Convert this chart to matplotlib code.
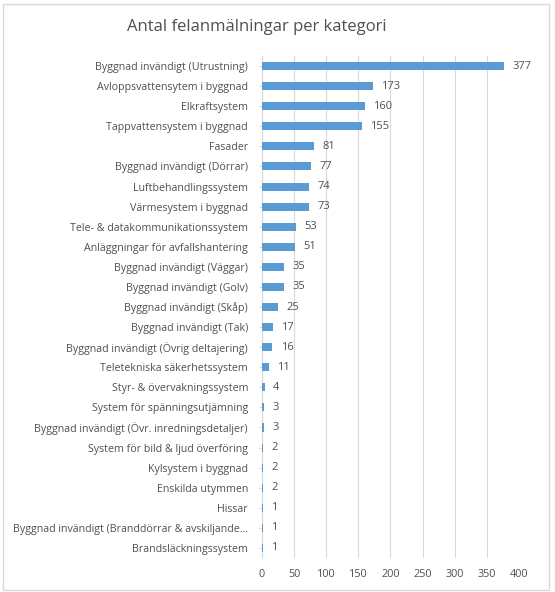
import matplotlib.pyplot as plt

categories = [
    'Byggnad invändigt (Utrustning)',
    'Avloppsvattensytem i byggnad',
    'Elkraftsystem',
    'Tappvattensystem i byggnad',
    'Fasader',
    'Byggnad invändigt (Dörrar)',
    'Luftbehandlingssystem',
    'Värmesystem i byggnad',
    'Tele- & datakommunikationssystem',
    'Anläggningar för avfallshantering',
    'Byggnad invändigt (Väggar)',
    'Byggnad invändigt (Golv)',
    'Byggnad invändigt (Skåp)',
    'Byggnad invändigt (Tak)',
    'Byggnad invändigt (Övrig deltajering)',
    'Teletekniska säkerhetssystem',
    'Styr- & övervakningssystem',
    'System för spänningsutjämning',
    'Byggnad invändigt (Övr. inredningsdetaljer)',
    'System för bild & ljud överföring',
    'Kylsystem i byggnad',
    'Enskilda utymmen',
    'Hissar',
    'Byggnad invändigt (Branddörrar & avskiljande...',
    'Brandsläckningssystem',
]
counts = [377, 173, 160, 155, 81, 77, 74, 73, 53, 51, 35, 35, 25, 17, 16, 11,
          4, 3, 3, 2, 2, 2, 1, 1, 1]
xticks = [0, 50, 100, 150, 200, 250, 300, 350, 400]

text_col = '#505050'
bar_col = '#5B9BD5'
plt.rcParams['font.family'] = ['Open Sans', 'DejaVu Sans']

fig = plt.figure(figsize=(5.55, 5.92), dpi=100)
# light frame round the whole chart, like Excel
fig.patches.append(plt.Rectangle((0.006, 0.004), 0.984, 0.99, transform=fig.transFigure,
                                 fill=False, edgecolor='#d9d9d9', linewidth=1))
ax = fig.add_axes([0.472, 0.0574, 0.463, 0.848])

y = list(range(len(categories)))
ax.barh(y, counts, height=0.4, color=bar_col, zorder=3)
for yi, v in zip(y, counts):
    ax.annotate(str(v), (v, yi), xytext=(6, 0), textcoords='offset points',
                va='center', ha='left', fontsize=8, color=text_col)

ax.set_ylim(len(categories) - 0.5, -0.5)
ax.set_yticks(y)
ax.set_yticklabels(categories, fontsize=7.7, color=text_col)
ax.set_xlim(0, 400)
ax.set_xticks(xticks)
ax.tick_params(axis='x', length=0, labelsize=7.8, labelcolor=text_col, pad=8)
ax.tick_params(axis='y', length=2, color='#d9d9d9', pad=8)
ax.grid(axis='x', color='#d9d9d9', linewidth=0.8, zorder=0)
for s in ['top', 'right', 'bottom']:
    ax.spines[s].set_visible(False)
ax.spines['left'].set_color('#d9d9d9')

fig.text(0.463, 0.955, 'Antal felanmälningar per kategori', ha='center', va='center',
         fontsize=12, color=text_col)

fig.savefig('out.png', dpi=100)
